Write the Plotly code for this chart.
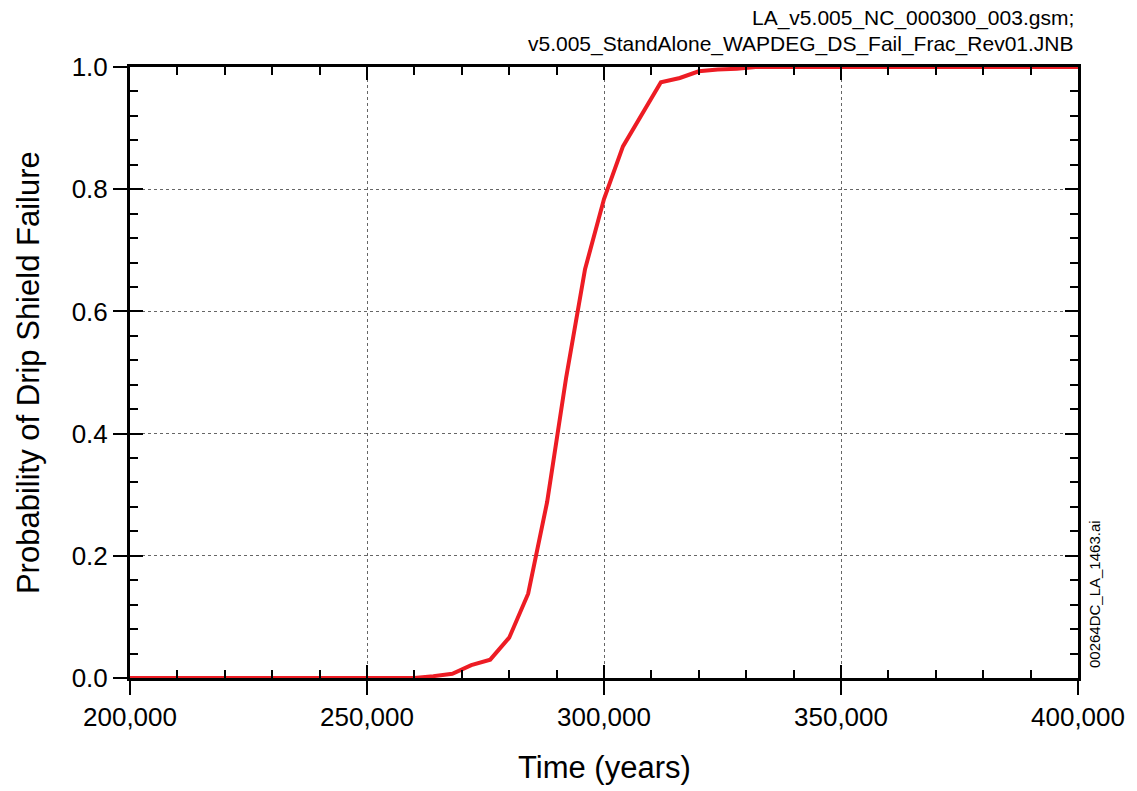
import plotly.graph_objects as go

# Data
time_years = [200000, 260000, 264000, 268000, 272000, 276000, 280000, 284000, 288000,
              292000, 296000, 300000, 304000, 308000, 312000, 316000, 320000, 324000,
              328000, 332000, 400000]
prob_failure = [0.0, 0.0, 0.003, 0.007, 0.021, 0.030, 0.066, 0.138, 0.288,
                0.491, 0.669, 0.784, 0.870, 0.923, 0.975, 0.982, 0.993, 0.996,
                0.997, 1.0, 1.0]

x_ticks = [200000, 250000, 300000, 350000, 400000]
y_ticks = [0.0, 0.2, 0.4, 0.6, 0.8, 1.0]

title_lines = ["LA_v5.005_NC_000300_003.gsm;",
               "v5.005_StandAlone_WAPDEG_DS_Fail_Frac_Rev01.JNB"]
file_tag = "00264DC_LA_1463.ai"
x_title = "Time (years)"
y_title = "Probability of Drip Shield Failure"

FONT = "Liberation Sans, Arial, sans-serif"
RED = "#ed1c24"

fig = go.Figure()

# invisible helper trace on the main axes
fig.add_trace(go.Scatter(x=time_years, y=prob_failure, xaxis="x", yaxis="y",
                         mode="lines", line=dict(color="rgba(0,0,0,0)", width=0),
                         hoverinfo="skip", showlegend=False))
fig.add_trace(go.Scatter(x=time_years, y=prob_failure, xaxis="x2", yaxis="y2",
                         mode="lines", line=dict(color=RED, width=4),
                         showlegend=False))

xr = [200000, 400000]
yr = [0, 1]

fig.update_layout(
    width=1137, height=791,
    margin=dict(l=130, r=57, t=67, b=113),
    paper_bgcolor="white", plot_bgcolor="white",
    font=dict(family=FONT, color="black"),
    xaxis=dict(range=xr, tickvals=x_ticks, tickformat=",", ticks="outside",
               ticklen=14, tickwidth=2, tickcolor="black",
               tickfont=dict(size=26, family=FONT, color="black"),
               showgrid=True, gridcolor="#666666", griddash="dot", gridwidth=1,
               showline=True, linecolor="black", linewidth=3, mirror=True,
               zeroline=False, fixedrange=True),
    yaxis=dict(range=yr, tickvals=y_ticks, tickformat=".1f", ticks="outside",
               ticklen=14, tickwidth=2, tickcolor="black",
               tickfont=dict(size=26, family=FONT, color="black"),
               showgrid=True, gridcolor="#666666", griddash="dot", gridwidth=1,
               showline=True, linecolor="black", linewidth=3, mirror=True,
               zeroline=False, fixedrange=True),
    xaxis2=dict(range=xr, overlaying="x", anchor="y2", side="bottom",
                tickvals=x_ticks, ticks="inside", ticklen=13, tickwidth=2,
                tickcolor="black", mirror="allticks", showticklabels=False,
                showgrid=False, showline=False, zeroline=False,
                minor=dict(ticks="inside", ticklen=8, tickwidth=1.5,
                           tickcolor="black", dtick=10000, tick0=200000,
                           showgrid=False),
                fixedrange=True),
    yaxis2=dict(range=yr, overlaying="y", anchor="x2", side="left",
                tickvals=y_ticks, ticks="inside", ticklen=13, tickwidth=2,
                tickcolor="black", mirror="allticks", showticklabels=False,
                showgrid=False, showline=False, zeroline=False,
                minor=dict(ticks="inside", ticklen=8, tickwidth=1.5,
                           tickcolor="black", dtick=0.04, tick0=0,
                           showgrid=False),
                fixedrange=True),
)

annotations = [
    dict(text=title_lines[0], xref="paper", yref="paper", x=0.998, y=1.080,
         xanchor="right", yanchor="middle", showarrow=False,
         font=dict(size=21, family=FONT, color="black")),
    dict(text=title_lines[1], xref="paper", yref="paper", x=0.998, y=1.0376,
         xanchor="right", yanchor="middle", showarrow=False,
         font=dict(size=21, family=FONT, color="black")),
    dict(text=file_tag, xref="paper", yref="paper", x=1.018, y=0.1375,
         xanchor="center", yanchor="middle", textangle=-90, showarrow=False,
         font=dict(size=15, family=FONT, color="black")),
    dict(text=x_title, xref="paper", yref="paper", x=0.5, y=-0.147,
         xanchor="center", yanchor="middle", showarrow=False,
         font=dict(size=31, family=FONT, color="black")),
    dict(text=y_title, xref="paper", yref="paper", x=-0.107, y=0.5,
         xanchor="center", yanchor="middle", textangle=-90, showarrow=False,
         font=dict(size=31, family=FONT, color="black")),
]
fig.update_layout(annotations=annotations)

fig.write_html("out.html")
